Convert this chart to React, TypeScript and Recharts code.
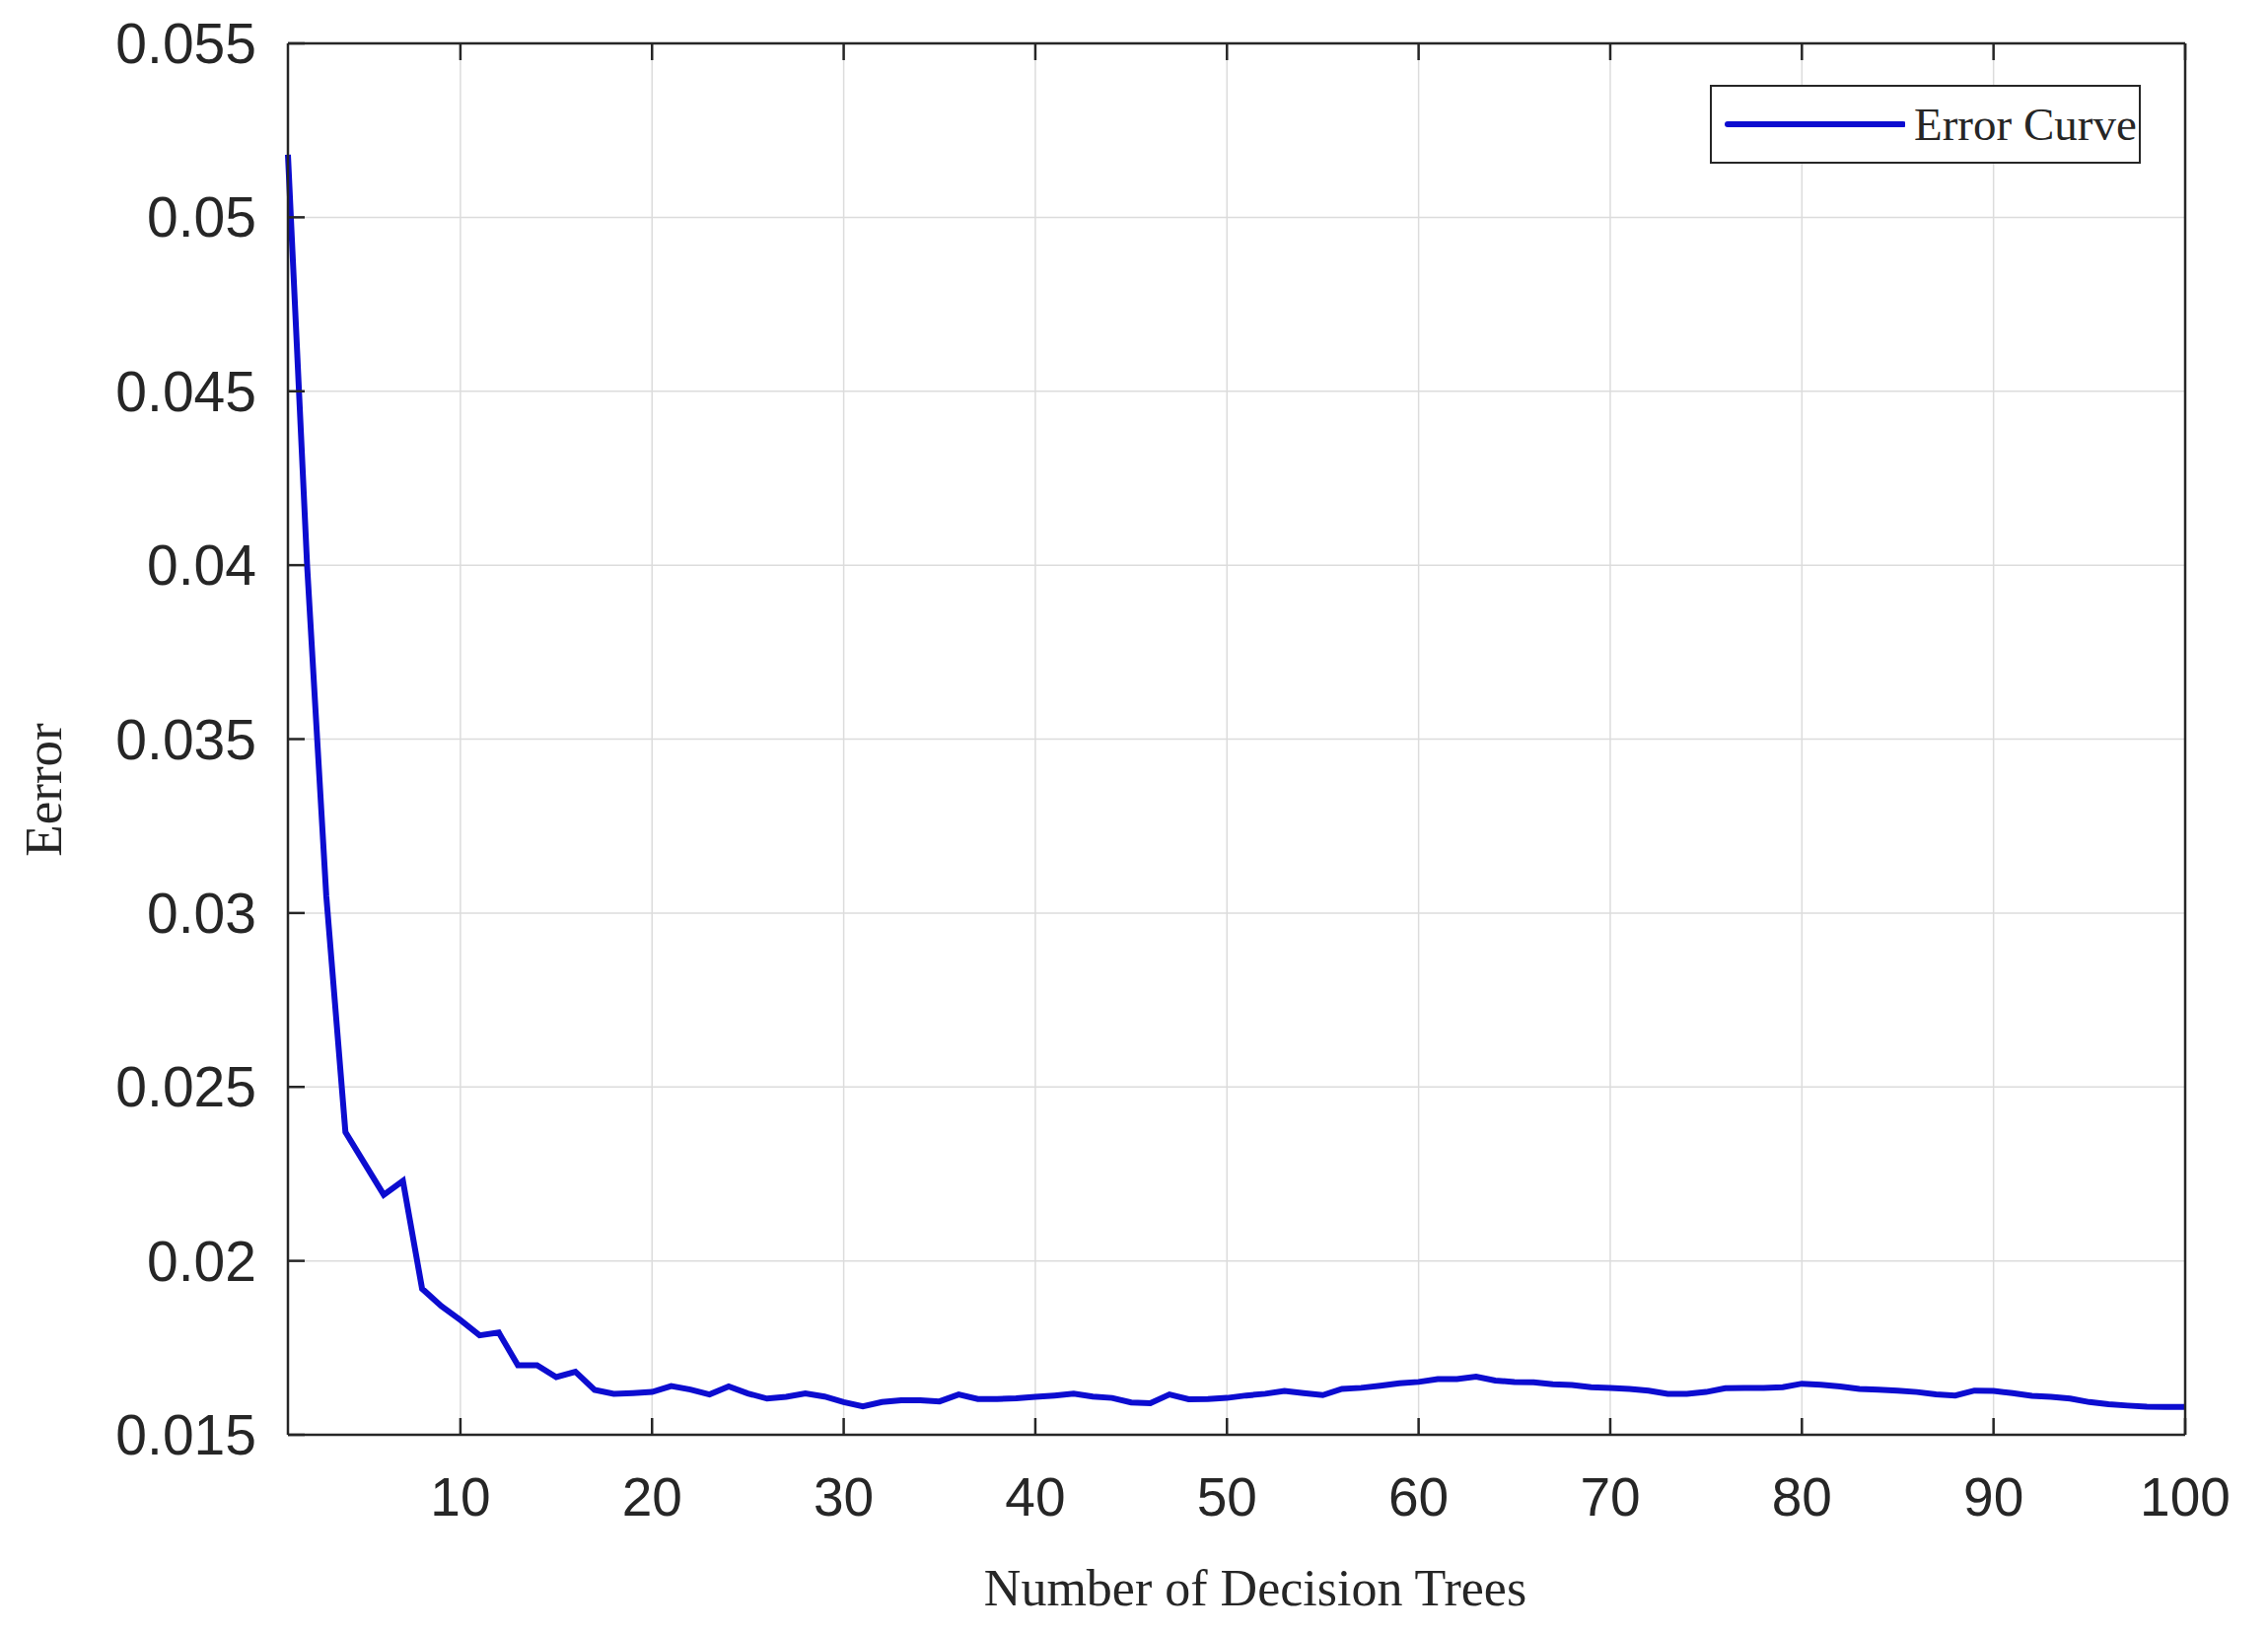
import { CartesianGrid, Label, Legend, Line, LineChart, XAxis, YAxis } from "recharts";

// number of decision trees in the ensemble
const trees = Array.from({ length: 100 }, (_, i) => i + 1);

// error, one value per tree count (1..100)
const errors = [
  0.0518, 0.04, 0.0305, 0.0237, 0.0228, 0.0219, 0.0223, 0.0192, 0.0187, 0.0183,
  0.01786, 0.01794, 0.017, 0.017, 0.01666, 0.01681, 0.01629, 0.01618, 0.0162, 0.01623,
  0.0164, 0.0163, 0.01616, 0.01639, 0.01619, 0.01604, 0.01609, 0.01619, 0.0161, 0.01594,
  0.01582, 0.01594, 0.01599, 0.01599, 0.01596, 0.01616, 0.01603, 0.01603, 0.01605, 0.01609,
  0.01613, 0.01618, 0.0161, 0.01606, 0.01593, 0.01591, 0.01616, 0.01602, 0.01603, 0.01606,
  0.01613, 0.01618, 0.01626, 0.0162, 0.01614, 0.01632, 0.01635, 0.01641, 0.01648, 0.01652,
  0.0166, 0.0166, 0.01667, 0.01656, 0.01652, 0.01651, 0.01645, 0.01643, 0.01637, 0.01635,
  0.01632, 0.01627, 0.01618, 0.01618, 0.01623, 0.01634, 0.01635, 0.01635, 0.01637, 0.01647,
  0.01644, 0.01639, 0.01632, 0.0163, 0.01627, 0.01623, 0.01616, 0.01613, 0.01627, 0.01626,
  0.0162, 0.01612, 0.01609, 0.01604, 0.01594, 0.01588, 0.01584, 0.01581, 0.0158, 0.0158,
];

const xTicks = [10, 20, 30, 40, 50, 60, 70, 80, 90, 100];
const yTicks = [0.015, 0.02, 0.025, 0.03, 0.035, 0.04, 0.045, 0.05, 0.055];

const rows = trees.map((n, i) => ({ trees: n, error: errors[i] }));

const INK = "#262626";
const BLUE = "#0c0cd0";
const SANS = "'Liberation Sans', Arial, sans-serif";
const SERIF = "'Liberation Serif', 'Times New Roman', serif";
const TICK_LEN = 17;

function BottomTick({ x, y, payload }: any) {
  return (
    <g>
      <line x1={x} y1={y} x2={x} y2={y - TICK_LEN} stroke={INK} strokeWidth={2.5} />
      <text x={x} y={y + 82} textAnchor="middle" fontFamily={SANS} fontSize={55} fill={INK}>
        {payload.value}
      </text>
    </g>
  );
}

function LeftTick({ x, y, payload }: any) {
  return (
    <g>
      <line x1={x} y1={y} x2={x + TICK_LEN} y2={y} stroke={INK} strokeWidth={2.5} />
      <text x={x - 32} y={y + 20} textAnchor="end" fontFamily={SANS} fontSize={57} fill={INK}>
        {String(payload.value)}
      </text>
    </g>
  );
}

function TopTick({ x, y }: any) {
  return <line x1={x} y1={y} x2={x} y2={y + TICK_LEN} stroke={INK} strokeWidth={2.5} />;
}

function RightTick({ x, y }: any) {
  return <line x1={x} y1={y} x2={x - TICK_LEN} y2={y} stroke={INK} strokeWidth={2.5} />;
}

function LegendBox() {
  return (
    <div
      style={{
        width: "100%",
        height: "100%",
        boxSizing: "border-box",
        border: `2.5px solid ${INK}`,
        background: "#fff",
        display: "flex",
        alignItems: "center",
      }}
    >
      <svg width={196} height={20} style={{ flex: "none" }}>
        <line x1={16} y1={10} x2={194} y2={10} stroke={BLUE} strokeWidth={6} strokeLinecap="round" />
      </svg>
      <span style={{ marginLeft: 9, fontFamily: SERIF, fontSize: 47, color: INK, whiteSpace: "nowrap" }}>
        Error Curve
      </span>
    </div>
  );
}

export default function App() {
  return (
    <div style={{ position: "absolute", left: 0, top: 0, width: 2300, height: 1656, background: "#fff" }}>
      <LineChart width={2300} height={1656} data={rows} margin={{ top: 43, right: 83, left: 0, bottom: 0 }}>
        <CartesianGrid stroke="#dcdcdc" strokeWidth={1.5} />
        <XAxis
          dataKey="trees"
          type="number"
          domain={[1, 100]}
          ticks={xTicks}
          height={201}
          tickSize={0}
          tickMargin={0}
          tickLine={false}
          axisLine={{ stroke: INK, strokeWidth: 2.5 }}
          tick={<BottomTick />}
          interval={0}
        >
          <Label
            content={() => (
              <text x={1273} y={1628} textAnchor="middle" fontFamily={SERIF} fontSize={52} fill={INK}>
                Number of Decision Trees
              </text>
            )}
          />
        </XAxis>
        <XAxis
          xAxisId="top"
          orientation="top"
          dataKey="trees"
          type="number"
          domain={[1, 100]}
          ticks={xTicks}
          height={1}
          tickSize={0}
          tickMargin={0}
          tickLine={false}
          axisLine={{ stroke: INK, strokeWidth: 2.5 }}
          tick={<TopTick />}
          interval={0}
        />
        <YAxis
          type="number"
          domain={[0.015, 0.055]}
          ticks={yTicks}
          width={292}
          tickSize={0}
          tickMargin={0}
          tickLine={false}
          axisLine={{ stroke: INK, strokeWidth: 2.5 }}
          tick={<LeftTick />}
          interval={0}
        >
          <Label
            content={() => (
              <text
                x={62}
                y={801}
                transform="rotate(-90 62 801)"
                textAnchor="middle"
                fontFamily={SERIF}
                fontSize={53}
                fill={INK}
              >
                Eerror
              </text>
            )}
          />
        </YAxis>
        <YAxis
          yAxisId="right"
          orientation="right"
          type="number"
          domain={[0.015, 0.055]}
          ticks={yTicks}
          width={1}
          tickSize={0}
          tickMargin={0}
          tickLine={false}
          axisLine={{ stroke: INK, strokeWidth: 2.5 }}
          tick={<RightTick />}
          interval={0}
        />
        <Legend
          layout="horizontal"
          verticalAlign="middle"
          align="center"
          content={() => <LegendBox />}
          wrapperStyle={{ position: "absolute", left: 1734, top: 86, width: 437, height: 80, margin: 0 }}
        />
        <Line
          type="linear"
          dataKey="error"
          name="Error Curve"
          stroke={BLUE}
          strokeWidth={6}
          dot={false}
          activeDot={false}
          isAnimationActive={false}
        />
      </LineChart>
    </div>
  );
}
